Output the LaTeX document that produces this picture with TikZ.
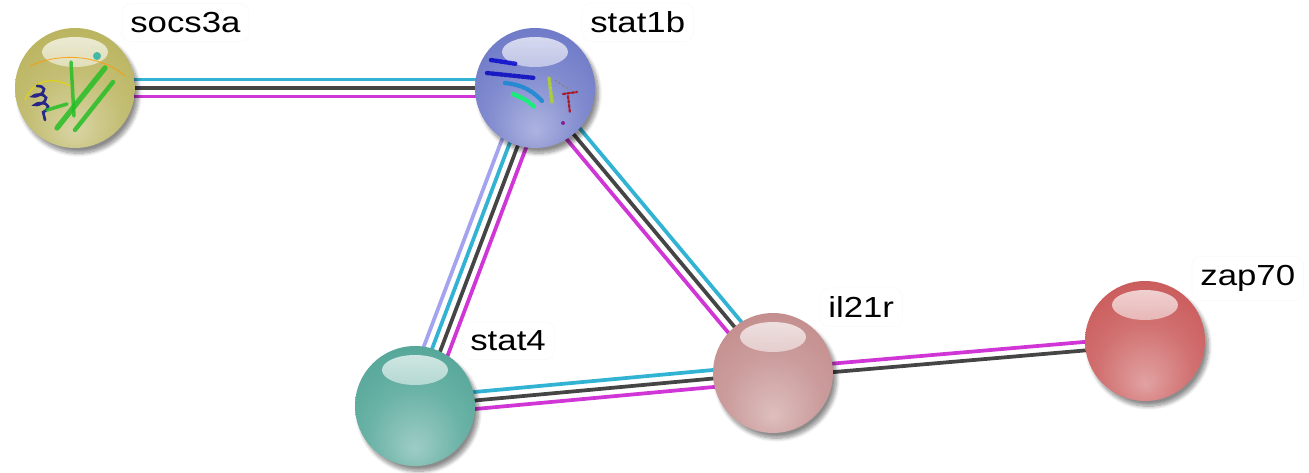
\documentclass[tikz,border=0pt]{standalone}
\usepackage{fontspec}
\setmainfont{Liberation Sans}
\usetikzlibrary{calc,backgrounds,shadows.blur,decorations.pathmorphing}
% evidence channels
\definecolor{cDb}{HTML}{33B3D3}
\definecolor{cExp}{HTML}{D035D5}
\definecolor{cCoex}{HTML}{454545}
\definecolor{cHom}{HTML}{A3A3F0}
% protein colours
\definecolor{cSocs}{HTML}{B8B25A}
\definecolor{cStatA}{HTML}{6A76C6}
\definecolor{cStatB}{HTML}{4FA496}
\definecolor{cIl}{HTML}{C28A8A}
\definecolor{cZap}{HTML}{C95656}
\colorlet{ballc}{gray}
\pgfdeclareradialshading[ballc]{glassball}{\pgfpoint{0bp}{-18bp}}{%
  color(0bp)=(ballc!55!white); color(20bp)=(ballc!85!white);
  color(38bp)=(ballc); color(52bp)=(ballc!75!black); color(64bp)=(ballc!45!black)}
\tikzset{
  ball/.style={circle,inner sep=0pt,minimum size=2.4cm,
    /utils/exec={\colorlet{ballc}{#1}},shading=glassball,
    blur shadow={shadow xshift=2pt,shadow yshift=-3pt,shadow blur steps=8,shadow opacity=45},
    path picture={\shade[top color=white!90!ballc,bottom color=ballc!85!white,opacity=.85]
      ([yshift=.72cm]path picture bounding box.center) ellipse (.66cm and .3cm);}},
  edg/.style={line width=.075cm},
  lbl/.style={font=\fontsize{16.5}{20}\selectfont,fill=white,draw=black!2,rounded corners=5pt,
    inner xsep=4pt,inner ysep=5pt,anchor=base west,xshift=.93cm,yshift=-.1cm,xscale=1.2},
  helix/.style={line width=2.5pt,dash pattern=on 1.5pt off 1pt,opacity=.8},
  strand/.style={line width=3pt,green!70!black!85,opacity=.85},
}
\begin{document}
\begin{tikzpicture}[x=0.02cm,y=-0.02cm]
\useasboundingbox (0,0) rectangle (1309,473);
% proteins
\node[ball=cSocs,label={[lbl]90:socs3a}] (socs3a) at (75,88) {};
\node[ball=cStatA,label={[lbl]90:stat1b}] (stat1b) at (535,88) {};
\node[ball=cStatB,label={[lbl]90:stat4}] (stat4) at (415,406) {};
\node[ball=cIl,label={[lbl]90:il21r}] (il21r) at (773,373) {};
\node[ball=cZap,label={[lbl]90:zap70}] (zap70) at (1145,341) {};
% ribbon of socs3a
\begin{scope}[shift={(socs3a.center)},line cap=round]
  \draw[orange!80!yellow,line width=.5pt,opacity=.8] (-45,-22) .. controls (-10,-38) and (30,-30) .. (50,-12);
  \draw[yellow!75!olive,line width=.7pt,opacity=.8] (-50,12) .. controls (-42,-8) and (-22,-12) .. (-5,-2);
  \draw[blue!55!black,line width=1.5pt,opacity=.8,decorate,decoration={coil,aspect=.4,segment length=5pt,amplitude=3.5pt}] (-38,-2) -- (-30,32);
  \draw[strand] (-18,40) -- (30,-20);
  \draw[strand,line width=2.5pt] (0,42) -- (38,-6);
  \draw[strand,line width=2pt] (-4,-26) -- (-1,28);
  \draw[strand,line width=2pt] (-28,22) -- (-8,16);
  \fill[cyan!45!green,opacity=.7] (22,-32) circle (4);
\end{scope}
% ribbon of stat1b
\begin{scope}[shift={(stat1b.center)},line cap=round]
  \draw[helix,blue!80!black] (-44,-28) -- (-18,-24);
  \draw[helix,blue!75!black] (-48,-15) -- (0,-10);
  \draw[helix,cyan!70!blue] (-30,-5) .. controls (-10,-3) and (0,5) .. (8,14);
  \draw[helix,green!60!cyan] (-22,6) .. controls (-12,10) and (-5,14) .. (0,20);
  \draw[helix,yellow!70!green,line width=2pt] (14,-10) -- (17,14);
  \draw[gray,line width=.6pt,dash pattern=on 1pt off 1.5pt] (20,-8) -- (35,2);
  \draw[helix,red!70!black,line width=1.3pt] (28,6) -- (42,4) (33,8) -- (35,25);
  \fill[violet,opacity=.8] (28,35) circle (2);
\end{scope}
% interactions
\begin{pgfonlayer}{background}
\foreach \k/\c in {1/cDb,0/cCoex,-1/cExp}
  \draw[edg,\c] ($(socs3a.center)!\k*.17cm!90:(stat1b.center)$) -- ($(stat1b.center)!\k*.17cm!-90:(socs3a.center)$);
\foreach \k/\c in {-1.5/cHom,-.5/cDb,.5/cCoex,1.5/cExp}
  \draw[edg,\c] ($(stat1b.center)!\k*.17cm!90:(stat4.center)$) -- ($(stat4.center)!\k*.17cm!-90:(stat1b.center)$);
\foreach \k/\c in {1/cDb,0/cCoex,-1/cExp}
  \draw[edg,\c] ($(stat1b.center)!\k*.17cm!90:(il21r.center)$) -- ($(il21r.center)!\k*.17cm!-90:(stat1b.center)$);
\foreach \k/\c in {1/cDb,0/cCoex,-1/cExp}
  \draw[edg,\c] ($(stat4.center)!\k*.17cm!90:(il21r.center)$) -- ($(il21r.center)!\k*.17cm!-90:(stat4.center)$);
\foreach \k/\c in {.5/cExp,-.5/cCoex}
  \draw[edg,\c] ($(il21r.center)!\k*.17cm!90:(zap70.center)$) -- ($(zap70.center)!\k*.17cm!-90:(il21r.center)$);
\end{pgfonlayer}
\end{tikzpicture}
\end{document}
